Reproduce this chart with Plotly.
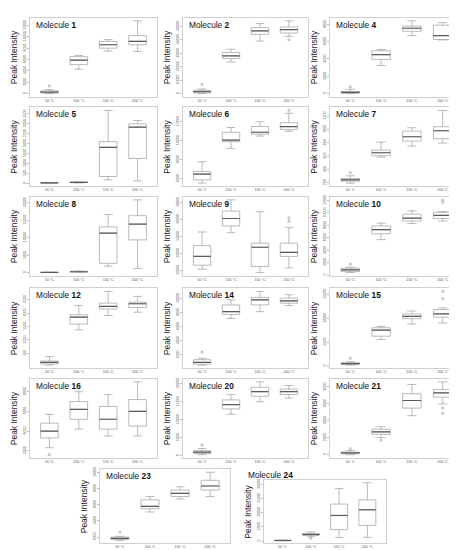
import plotly.graph_objects as go

W, H = 457, 550
temps = ["50 °C", "100 °C", "150 °C", "200 °C"]

# Box statistics per temperature: [lower whisker, Q1, median, Q3, upper whisker]
mol1 = [[0, 100, 250, 500, 700], [4300, 5100, 5900, 6500, 6700], [7500, 8000, 8600, 9200, 9500], [7400, 8600, 9200, 10200, 12800]]
mol1_out = [[1, 1350]]
mol1_ticks = [0, 2000, 4000, 6000, 8000, 10000, 12000]

mol2 = [[0, 500, 1500, 2500, 3400], [23500, 26000, 28000, 30500, 33000], [39000, 44000, 46500, 49000, 52000], [42500, 45000, 47500, 49500, 54000]]
mol2_out = [[1, 6800], [4, 40000]]
mol2_ticks = [0, 10000, 20000, 30000, 40000, 50000]

mol4 = [[0, 50, 150, 250, 500], [3250, 3950, 4500, 4950, 5100], [6700, 7200, 7550, 7800, 8400], [6200, 6250, 6700, 7900, 8200]]
mol4_out = [[1, 770]]
mol4_ticks = [0, 2000, 4000, 6000, 8000]

mol5 = [[5, 10, 20, 30, 40], [20, 30, 40, 55, 70], [170, 340, 1810, 2100, 3680], [120, 1250, 2830, 3000, 3170]]
mol5_out = []
mol5_ticks = [0, 500, 1000, 1500, 2000, 2500, 3000, 3500]

mol6 = [[5550, 5900, 6500, 6760, 7800], [9200, 9900, 10070, 10900, 11400], [10500, 10700, 10900, 11500, 12000], [11000, 11200, 11500, 11900, 12900]]
mol6_out = [[4, 13200]]
mol6_ticks = [6000, 8000, 10000, 12000]

mol7 = [[195, 225, 245, 265, 305], [585, 605, 650, 690, 810], [750, 825, 890, 975, 1025], [795, 860, 980, 1040, 1285]]
mol7_out = [[1, 350]]
mol7_ticks = [200, 400, 600, 800, 1000, 1200]

mol8 = [[50, 80, 100, 120, 150], [200, 250, 300, 450, 500], [1900, 2700, 11300, 13100, 16600], [1250, 9400, 13900, 16300, 20800]]
mol8_out = []
mol8_ticks = [0, 5000, 10000, 15000, 20000]

mol9 = [[10120, 10600, 11640, 12920, 14520], [14440, 15240, 16120, 17000, 18320], [9720, 10440, 12720, 13200, 16920], [10280, 11640, 12120, 13200, 15040]]
mol9_out = [[4, 15800], [4, 16200]]
mol9_ticks = [10000, 12000, 14000, 16000, 18000]

mol10 = [[380, 545, 820, 1090, 1250], [5700, 6650, 7300, 7900, 8350], [8300, 8700, 9150, 9800, 10350], [8700, 9100, 9600, 10100, 10200]]
mol10_out = [[1, 1740], [4, 12100], [4, 11700]]
mol10_ticks = [0, 2000, 4000, 6000, 8000, 10000, 12000]

mol12 = [[60, 100, 160, 213, 375], [1375, 1590, 1850, 1940, 2290], [1910, 2150, 2250, 2375, 2810], [2035, 2210, 2350, 2410, 2625]]
mol12_out = []
mol12_ticks = [500, 1000, 1500, 2000, 2500]

mol14 = [[570, 710, 950, 1330, 1520], [7140, 7710, 8100, 9050, 9760], [8100, 9050, 9760, 10100, 10950], [8950, 9290, 9620, 10000, 10480]]
mol14_out = [[1, 2380]]
mol14_ticks = [2000, 4000, 6000, 8000, 10000]

mol15 = [[200, 350, 490, 700, 900], [5550, 6250, 7500, 8000, 8300], [8800, 9900, 10400, 10900, 11500], [9000, 10200, 10900, 11800, 12150]]
mol15_out = [[1, 1600], [4, 15600], [4, 14100]]
mol15_ticks = [0, 5000, 10000, 15000]

mol16 = [[5150, 5650, 6000, 6400, 6850], [6100, 6600, 7100, 7500, 8000], [5750, 6100, 6600, 7250, 7850], [5750, 6250, 7000, 7600, 8500]]
mol16_out = [[1, 4800]]
mol16_ticks = [5000, 6000, 7000, 8000]

mol20 = [[300, 600, 1000, 1400, 2000], [11500, 13000, 14200, 15500, 17000], [15000, 16500, 17800, 19000, 20500], [16000, 17000, 17800, 18500, 19500]]
mol20_out = [[1, 3000]]
mol20_ticks = [0, 5000, 10000, 15000, 20000]

mol21 = [[0, 100, 200, 300, 500], [2000, 2400, 2700, 3000, 3300], [4600, 5500, 6400, 7200, 8300], [6000, 6800, 7300, 7700, 8600]]
mol21_out = [[1, 700], [2, 1700], [4, 5500], [4, 4900]]
mol21_ticks = [0, 2000, 4000, 6000, 8000]

mol23 = [[1600, 1700, 1850, 2000, 2100], [5100, 5500, 5800, 6600, 7000], [6700, 7000, 7400, 7800, 8200], [7000, 7800, 8300, 9000, 10000]]
mol23_out = [[1, 2600]]
mol23_ticks = [2000, 4000, 6000, 8000, 10000]

mol24 = [[100, 150, 200, 250, 300], [1500, 2000, 2300, 2700, 3200], [1200, 4000, 9000, 13000, 18500], [1300, 5500, 11000, 14500, 20500]]
mol24_out = [[2, 1000]]
mol24_ticks = [0, 5000, 10000, 15000, 20000]

molecules = ["1", "2", "4", "5", "6", "7", "8", "9", "10", "12", "14", "15", "16", "20", "21", "23", "24"]
stats = [mol1, mol2, mol4, mol5, mol6, mol7, mol8, mol9, mol10, mol12, mol14, mol15, mol16, mol20, mol21, mol23, mol24]
outliers = [mol1_out, mol2_out, mol4_out, mol5_out, mol6_out, mol7_out, mol8_out, mol9_out, mol10_out,
            mol12_out, mol14_out, mol15_out, mol16_out, mol20_out, mol21_out, mol23_out, mol24_out]
ticks = [mol1_ticks, mol2_ticks, mol4_ticks, mol5_ticks, mol6_ticks, mol7_ticks, mol8_ticks, mol9_ticks, mol10_ticks,
         mol12_ticks, mol14_ticks, mol15_ticks, mol16_ticks, mol20_ticks, mol21_ticks, mol23_ticks, mol24_ticks]

# Layout geometry (pixels): plot frame left, right, top, bottom
rows = [(7, 86), (97, 176), (187, 266), (279, 359), (370, 449)]
cols = [(22, 149), (175, 300), (322, 455)]
frames = []
for r in rows:
    for c in cols:
        frames.append((c[0], c[1], r[0], r[1]))
frames.append((92, 222, 461, 535))
frames.append((256, 378, 472, 535))
title_pos = [(f[0] + 4, f[2] + 7) for f in frames]
title_pos[-1] = (238, 467)
ylabel_x = [f[0] - 16 for f in frames]


def px(x):
    return x / W


def py(y):
    return 1 - y / H


fig = go.Figure()
annotations = []
LINE = "#a8a8a8"
MED = "#5a5a5a"
BW = 0.6
TICKFONT = dict(size=3.6, color="#555", family="Liberation Sans")

for i, name in enumerate(molecules):
    n = i + 1
    xa = "x" if n == 1 else f"x{n}"
    ya = "y" if n == 1 else f"y{n}"
    s = stats[i]
    xs = [1, 2, 3, 4]
    fig.add_trace(go.Box(
        x=xs,
        lowerfence=[v[0] for v in s], q1=[v[1] for v in s], median=[v[2] for v in s],
        q3=[v[3] for v in s], upperfence=[v[4] for v in s],
        width=BW, whiskerwidth=0.5, fillcolor="white",
        line=dict(color=LINE, width=0.8), boxpoints=False,
        xaxis=xa, yaxis=ya, showlegend=False, hoverinfo="skip"))
    mx, my = [], []
    for k, v in enumerate(s):
        mx += [xs[k] - BW / 2, xs[k] + BW / 2, None]
        my += [v[2], v[2], None]
    fig.add_trace(go.Scatter(x=mx, y=my, mode="lines", line=dict(color=MED, width=1.2),
                             xaxis=xa, yaxis=ya, showlegend=False, hoverinfo="skip"))
    if outliers[i]:
        fig.add_trace(go.Scatter(x=[o[0] for o in outliers[i]], y=[o[1] for o in outliers[i]],
                                 mode="markers", marker=dict(symbol="circle-open", size=2.2, color="#888",
                                                             line=dict(width=0.6)),
                                 xaxis=xa, yaxis=ya, showlegend=False, hoverinfo="skip"))
    allv = [x for v in s for x in v] + [o[1] for o in outliers[i]]
    lo, hi = min(allv), max(allv)
    pad = 0.04 * (hi - lo)
    f = frames[i]
    xkey = "xaxis" if n == 1 else f"xaxis{n}"
    ykey = "yaxis" if n == 1 else f"yaxis{n}"
    fig.layout[xkey] = dict(domain=[px(f[0]), px(f[1])], anchor=ya, range=[0.34, 4.66],
                            tickvals=xs, ticktext=temps, showline=True, mirror=True,
                            linecolor="#d0d0d0", linewidth=1, ticks="", showgrid=False, zeroline=False,
                            tickfont=TICKFONT)
    fig.layout[ykey] = dict(domain=[py(f[3]), py(f[2])], anchor=xa, range=[lo - pad, hi + pad],
                            tickvals=ticks[i], tickformat="d", tickangle=-90, showline=True, mirror=True,
                            linecolor="#d0d0d0", linewidth=1, ticks="outside", ticklen=2, tickcolor="#bbb",
                            showgrid=False, zeroline=False, tickfont=TICKFONT)
    tx, ty = title_pos[i]
    annotations.append(dict(text=f"Molecule <b>{name}</b>", x=px(tx), y=py(ty), xref="paper", yref="paper",
                            xanchor="left", yanchor="middle", showarrow=False,
                            font=dict(size=8.3, color="#111", family="Liberation Sans")))
    annotations.append(dict(text="Peak Intensity", x=px(ylabel_x[i]), y=py((f[2] + f[3]) / 2),
                            xref="paper", yref="paper", xanchor="center", yanchor="middle",
                            textangle=-90, showarrow=False,
                            font=dict(size=8.5, color="#222", family="Liberation Sans")))

fig.update_layout(width=W, height=H, margin=dict(l=0, r=0, t=0, b=0),
                  paper_bgcolor="white", plot_bgcolor="white", annotations=annotations)
fig.write_html("out.html")
